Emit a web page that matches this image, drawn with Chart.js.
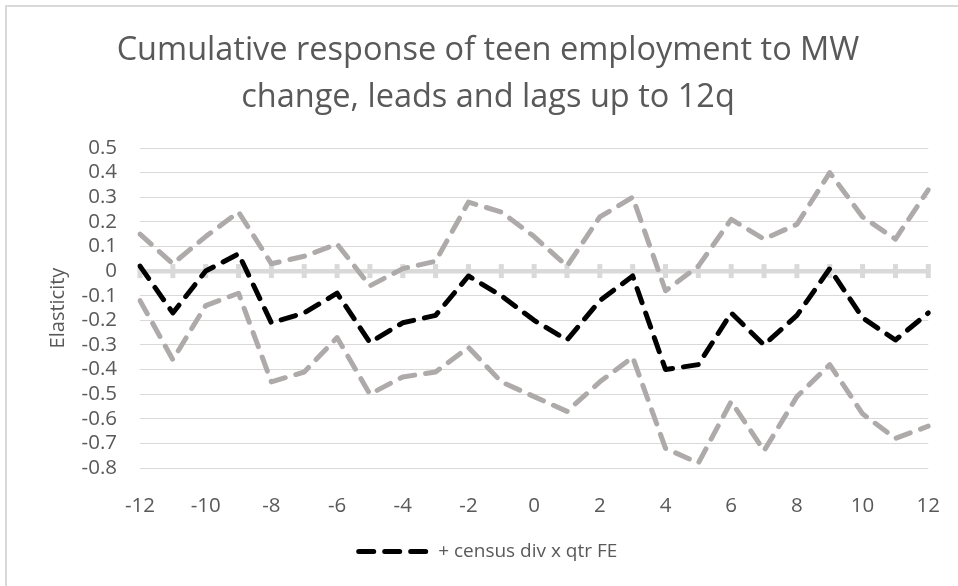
<!DOCTYPE html>
<html>
<head>
  <meta charset="utf-8">
  <title>Cumulative response of teen employment to MW change</title>
  <script src="https://cdn.jsdelivr.net/npm/chart.js"></script>
  <style>
    body { margin: 0; background: #fff; overflow: hidden; }
    #frame { position: absolute; left: 5px; top: 5px; width: 1000px; height: 640px; border: 2px solid #d9d9d9; }
    #chart { position: absolute; left: 0; top: 0; }
  </style>
</head>
<body>
  <div id="frame"></div>
  <canvas id="chart" width="958" height="586"></canvas>

  <script>
    // quarters relative to the MW change
    var quarters = ['-12','-11','-10','-9','-8','-7','-6','-5','-4','-3','-2','-1','0',
                    '1','2','3','4','5','6','7','8','9','10','11','12'];

    // point estimate (+ census div x qtr FE)
    var estimate = [0.02, -0.17, 0.0, 0.07, -0.21, -0.17, -0.09, -0.29, -0.21, -0.18, -0.02, -0.1, -0.2,
                    -0.28, -0.12, -0.02, -0.4, -0.38, -0.17, -0.3, -0.18, 0.01, -0.19, -0.28, -0.17];

    // upper / lower confidence bounds
    var upperBound = [0.15, 0.03, 0.14, 0.24, 0.03, 0.06, 0.11, -0.06, 0.01, 0.04, 0.28, 0.24, 0.14,
                      0.02, 0.22, 0.3, -0.08, 0.02, 0.21, 0.13, 0.19, 0.4, 0.22, 0.13, 0.33];
    var lowerBound = [-0.12, -0.36, -0.14, -0.09, -0.45, -0.41, -0.27, -0.5, -0.43, -0.41, -0.31, -0.45, -0.51,
                      -0.57, -0.45, -0.35, -0.72, -0.78, -0.53, -0.73, -0.51, -0.38, -0.58, -0.68, -0.63];

    var textGrey = '#595959';
    var lineGrey = '#aeaaaa';
    var font = "'Open Sans', sans-serif";
    var dash = [15, 11];

    // little tick marks across the zero line, one per quarter
    var zeroTicks = {
      id: 'zeroTicks',
      beforeDatasetsDraw: function(chart) {
        var x = chart.scales.x, y = chart.scales.y, c = chart.ctx;
        var y0 = y.getPixelForValue(0);
        c.save();
        c.strokeStyle = '#d9d9d9';
        c.lineWidth = 5;
        for (var i = 0; i < quarters.length; i++) {
          var px = x.getPixelForValue(i);
          c.beginPath();
          c.moveTo(px, y0 - 7);
          c.lineTo(px, y0 + 7);
          c.stroke();
        }
        c.restore();
      }
    };

    function dashed(label, data, color) {
      return {
        label: label,
        data: data,
        borderColor: color,
        backgroundColor: color,
        borderWidth: 5,
        borderDash: dash,
        borderCapStyle: 'round',
        borderJoinStyle: 'round',
        pointRadius: 0,
        tension: 0,
        fill: false
      };
    }

    new Chart(document.getElementById('chart').getContext('2d'), {
      type: 'line',
      data: {
        labels: quarters,
        datasets: [
          dashed('+ census div x qtr FE', estimate, '#000000'),
          dashed('upper', upperBound, lineGrey),
          dashed('lower', lowerBound, lineGrey)
        ]
      },
      options: {
        responsive: false,
        animation: false,
        layout: { padding: { left: 46, right: 28, top: 8, bottom: 15 } },
        plugins: {
          title: {
            display: true,
            text: ['Cumulative response of teen employment to MW', 'change, leads and lags up to 12q'],
            color: textGrey,
            font: { family: font, size: 32.5, weight: 'normal', lineHeight: '47px' },
            padding: { top: 19, bottom: 27 }
          },
          legend: {
            position: 'bottom',
            labels: {
              usePointStyle: true,
              pointStyle: 'line',
              pointStyleWidth: 70,
              boxHeight: 4,
              color: textGrey,
              font: { family: font, size: 19 },
              padding: 10,
              generateLabels: function(chart) {
                var items = Chart.defaults.plugins.legend.labels.generateLabels(chart);
                return items.filter(function(it) { return it.datasetIndex === 0; }).map(function(it) {
                  it.lineDash = dash;
                  it.lineCap = 'round';
                  it.lineWidth = 5;
                  it.strokeStyle = '#000000';
                  return it;
                });
              }
            }
          },
          tooltip: { enabled: false }
        },
        scales: {
          x: {
            type: 'category',
            offset: false,
            grid: { display: false },
            border: { display: false },
            ticks: {
              autoSkip: false,
              maxRotation: 0,
              padding: 18,
              color: textGrey,
              font: { family: font, size: 20.5 },
              callback: function(v, i) { return i % 2 === 0 ? quarters[i] : ''; }
            },
            afterFit: function(s) { s.height = 64; }
          },
          y: {
            min: -0.8,
            max: 0.5,
            border: { display: false },
            grid: {
              color: '#d9d9d9',
              drawTicks: false,
              lineWidth: function(ctx) { return ctx.tick && ctx.tick.value === 0 ? 4.5 : 1; }
            },
            ticks: {
              stepSize: 0.1,
              autoSkip: false,
              padding: 23,
              color: textGrey,
              font: { family: font, size: 20.5 }
            },
            title: {
              display: true,
              text: 'Elasticity',
              color: textGrey,
              font: { family: font, size: 20 },
              padding: 0
            },
            afterFit: function(s) { s.width = 94; }
          }
        }
      },
      plugins: [zeroTicks]
    });
  </script>
</body>
</html>
